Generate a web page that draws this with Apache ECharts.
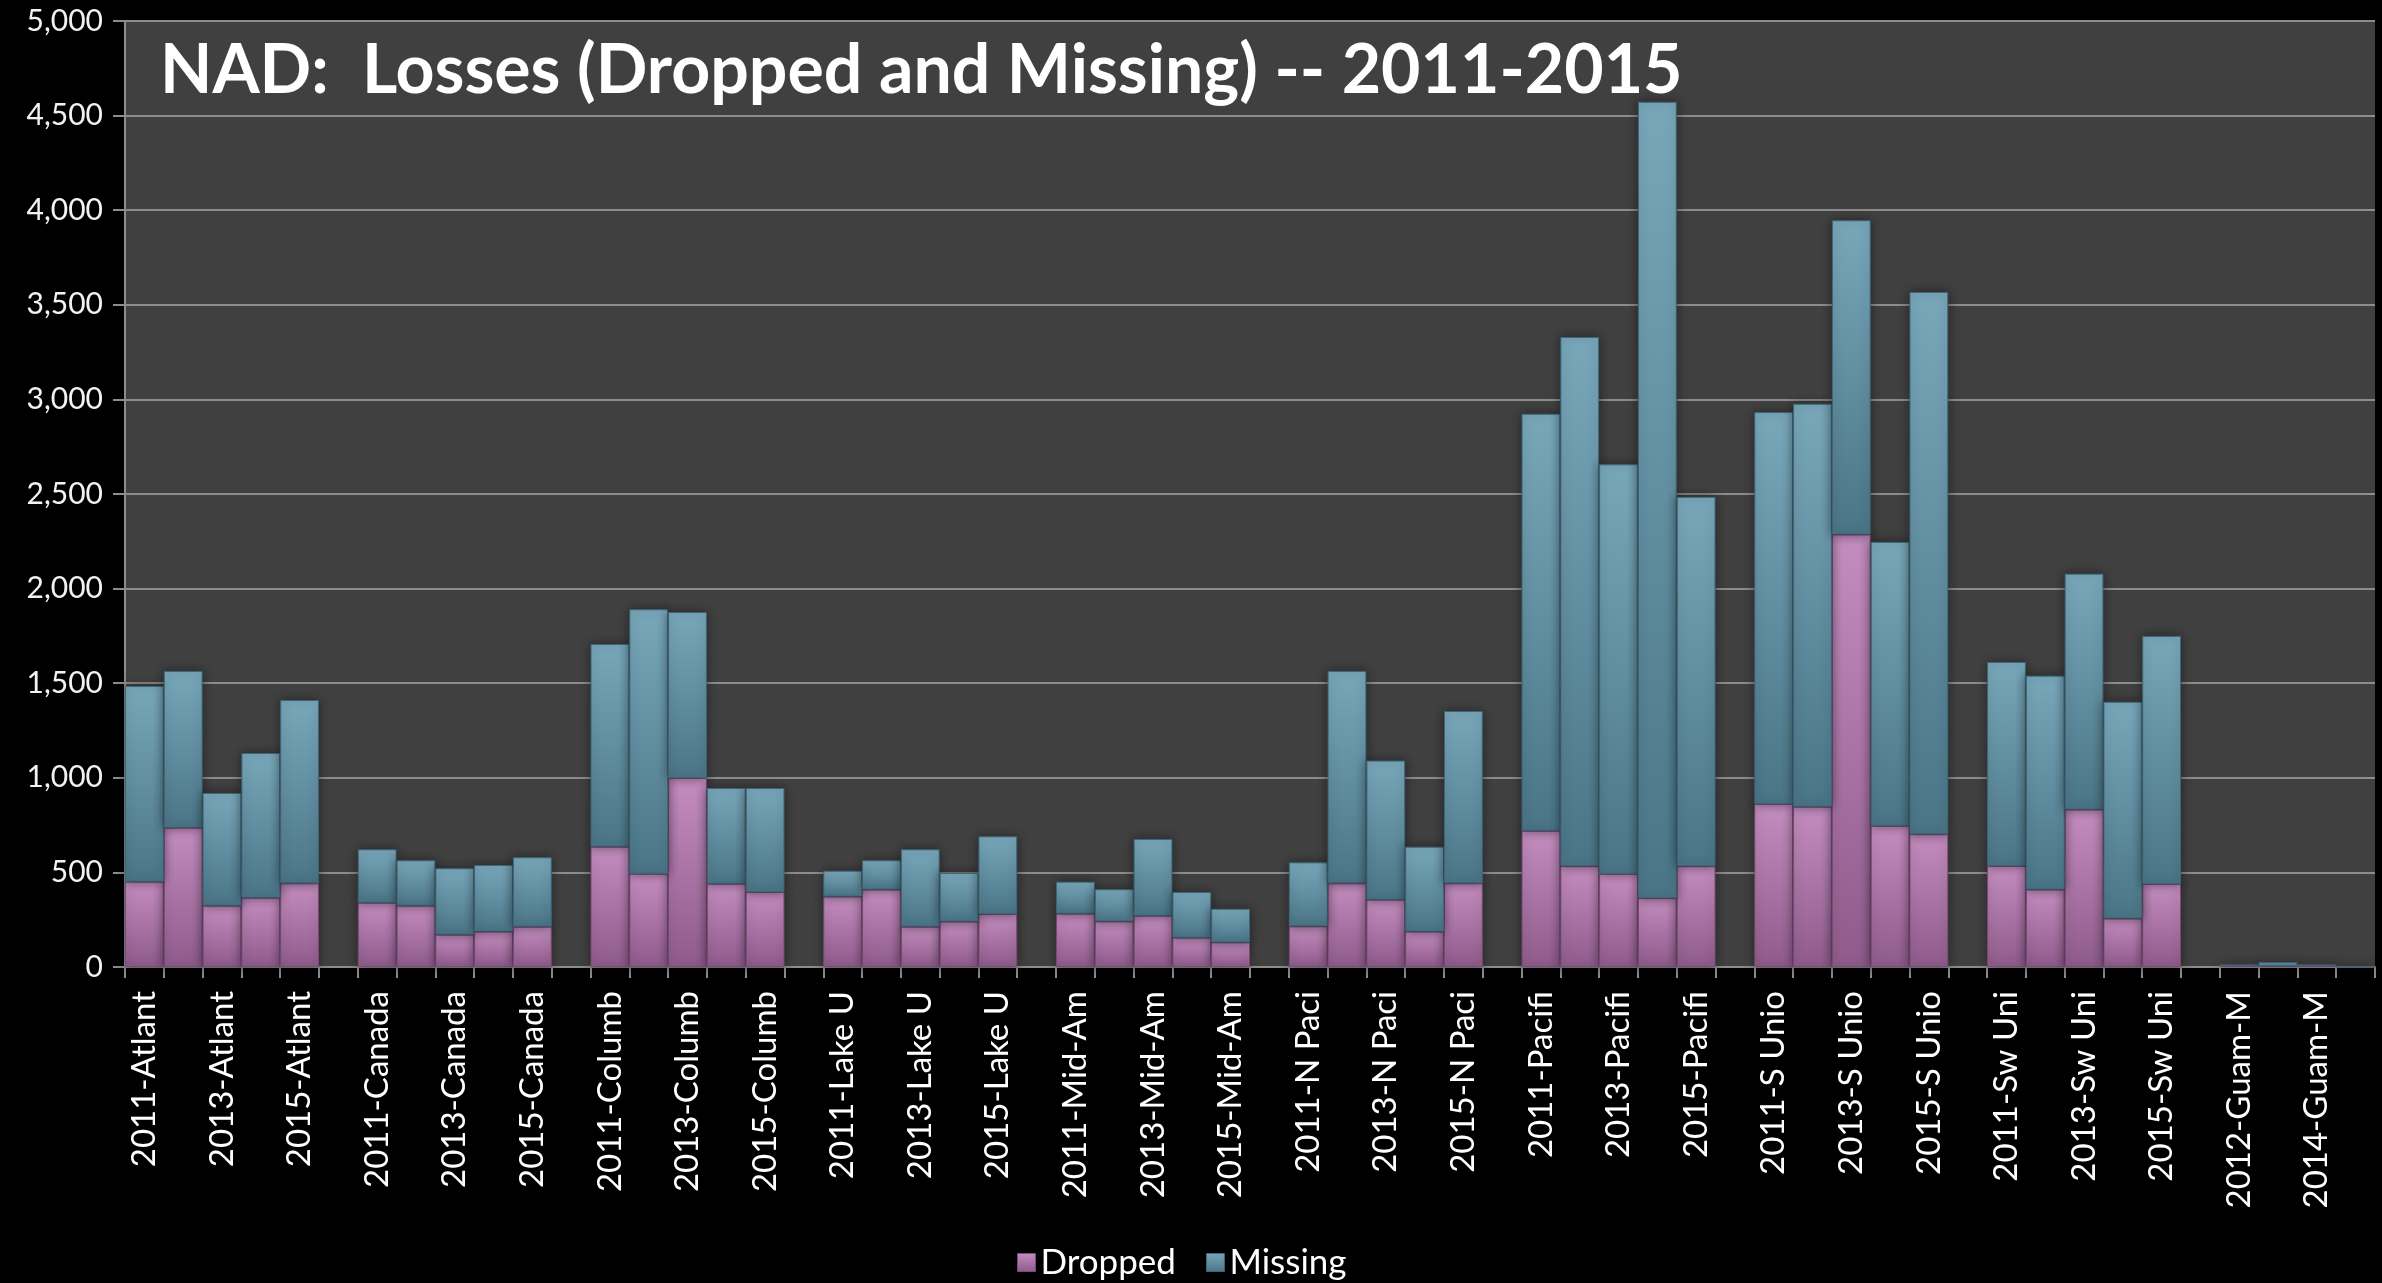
<!DOCTYPE html>
<html>
<head>
<meta charset="utf-8">
<script src="https://cdn.jsdelivr.net/npm/echarts@6/dist/echarts.min.js"></script>
<style>
html,body{margin:0;padding:0;background:#000;}
#c{width:2382px;height:1283px;}
</style>
</head>
<body>
<div id="c"></div>
<script>
var categories = [
  '2011-Atlant','2012-Atlant','2013-Atlant','2014-Atlant','2015-Atlant','',
  '2011-Canada','2012-Canada','2013-Canada','2014-Canada','2015-Canada','',
  '2011-Columb','2012-Columb','2013-Columb','2014-Columb','2015-Columb','',
  '2011-Lake U','2012-Lake U','2013-Lake U','2014-Lake U','2015-Lake U','',
  '2011-Mid-Am','2012-Mid-Am','2013-Mid-Am','2014-Mid-Am','2015-Mid-Am','',
  '2011-N Paci','2012-N Paci','2013-N Paci','2014-N Paci','2015-N Paci','',
  '2011-Pacifi','2012-Pacifi','2013-Pacifi','2014-Pacifi','2015-Pacifi','',
  '2011-S Unio','2012-S Unio','2013-S Unio','2014-S Unio','2015-S Unio','',
  '2011-Sw Uni','2012-Sw Uni','2013-Sw Uni','2014-Sw Uni','2015-Sw Uni','',
  '2012-Guam-M','2013-Guam-M','2014-Guam-M','2015-Guam-M'
];
var dropped = [
  451, 736, 324, 366, 442, null,
  340, 324, 171, 187, 213, null,
  636, 493, 999, 440, 396, null,
  372, 409, 213, 240, 280, null,
  282, 241, 271, 155, 130, null,
  215, 442, 356, 187, 442, null,
  720, 533, 492, 364, 533, null,
  862, 847, 2286, 746, 702, null,
  534, 409, 832, 256, 439, null,
  10, 5, 10, 0
];
var missing = [
  1034, 829, 596, 765, 969, null,
  282, 240, 351, 352, 367, null,
  1071, 1398, 877, 506, 550, null,
  137, 155, 409, 257, 411, null,
  169, 170, 406, 241, 178, null,
  338, 1123, 735, 449, 911, null,
  2204, 2797, 2165, 4209, 1952, null,
  2071, 2130, 1661, 1501, 2866, null,
  1078, 1131, 1247, 1146, 1311, null,
  0, 20, 0, 0
];
var yTicks = {min: 0, max: 5000, interval: 500};
var titleText = 'NAD:  Losses (Dropped and Missing) -- 2011-2015';

var FONT = 'Lato, "Open Sans", sans-serif';
function grad(top, bottom) {
  return new echarts.graphic.LinearGradient(0, 0, 0, 1, [
    {offset: 0, color: top}, {offset: 1, color: bottom}
  ]);
}
var chart = echarts.init(document.getElementById('c'), null, {renderer: 'canvas'});
chart.setOption({
  backgroundColor: '#000000',
  animation: false,
  title: {
    text: titleText,
    left: 155, top: 32,
    textStyle: {color: '#ffffff', fontFamily: FONT, fontWeight: 'bold', fontSize: 68}
  },
  legend: {
    left: 1012, top: 1240,
    itemWidth: 18, itemHeight: 18, itemGap: 30,
    icon: 'rect',
    textStyle: {color: '#ffffff', fontFamily: FONT, fontSize: 35},
    data: [
      {name: 'Dropped', itemStyle: {color: grad('#c38dbf', '#8f5b8b'), borderColor: '#7a4b77', borderWidth: 1}},
      {name: 'Missing', itemStyle: {color: grad('#78a7ba', '#4a7587'), borderColor: '#3e6678', borderWidth: 1}}
    ]
  },
  grid: {
    left: 125, right: 7, top: 21, bottom: 316,
    show: true, backgroundColor: '#404040', borderWidth: 0
  },
  xAxis: {
    type: 'category',
    data: categories,
    boundaryGap: true,
    axisLine: {lineStyle: {color: '#8c8c8c', width: 2}},
    axisTick: {show: true, interval: 0, length: 11, lineStyle: {color: '#8c8c8c', width: 2}},
    axisLabel: {
      interval: 1, rotate: 90, margin: 24,
      color: '#ffffff', fontFamily: FONT, fontSize: 33
    },
    splitLine: {show: false}
  },
  yAxis: {
    type: 'value',
    min: yTicks.min, max: yTicks.max, interval: yTicks.interval,
    axisLine: {show: true, lineStyle: {color: '#8c8c8c', width: 2}},
    axisTick: {show: true, length: 12, lineStyle: {color: '#8c8c8c', width: 2}},
    axisLabel: {
      margin: 22, color: '#f2f2f2', fontFamily: FONT, fontSize: 30,
      formatter: function (v) { return v.toLocaleString('en-US'); }
    },
    splitLine: {lineStyle: {color: '#8c8c8c', width: 2}}
  },
  series: [
    {
      name: 'Dropped', type: 'bar', stack: 'loss',
      barWidth: '100%', barCategoryGap: '0%',
      data: dropped,
      itemStyle: {
        color: grad('#c38dbf', '#8f5b8b'),
        borderColor: '#7a4b77', borderWidth: 1,
        shadowBlur: 10, shadowColor: 'rgba(0,0,0,0.45)'
      }
    },
    {
      name: 'Missing', type: 'bar', stack: 'loss',
      barWidth: '100%', barCategoryGap: '0%',
      data: missing,
      itemStyle: {
        color: grad('#78a7ba', '#4a7587'),
        borderColor: '#3e6678', borderWidth: 1,
        shadowBlur: 10, shadowColor: 'rgba(0,0,0,0.45)'
      }
    }
  ]
});
</script>
</body>
</html>
